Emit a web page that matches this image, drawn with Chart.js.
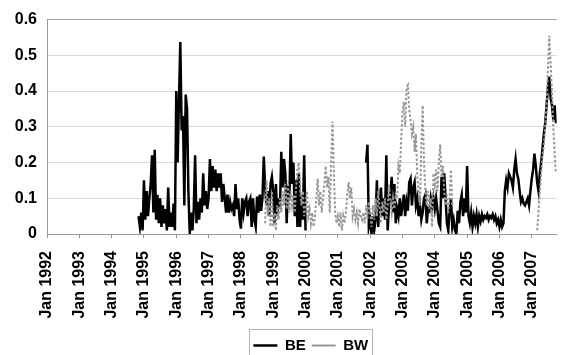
<!DOCTYPE html>
<html>
<head>
<meta charset="utf-8">
<script src="https://cdn.jsdelivr.net/npm/chart.js@4.4.1/dist/chart.umd.min.js"></script>
<style>
    html, body { margin: 0; padding: 0; background: #fff; }
</style>
</head>
<body>
<canvas id="myChart" width="564" height="355"></canvas>
<script>
const stepsPerYear = 24; // two readings a month

// BE, Nov 1994 to Jan 2000
const beEarlyFrom = 1994 + 20 / 24;
const beEarly = [
    0.05, 0.02, 0.06, 0.01,
    0.15, 0.04, 0.12, 0.05, 0.10, 0.14, 0.22, 0.06, 0.236, 0.04, 0.11, 0.03, 0.10, 0.02, 0.08, 0.03, 0.07, 0.01, 0.13, 0.02, 0.06, 0.02, 0.085, 0.01,
    0.40, 0.20, 0.37, 0.537, 0.29, 0.33, 0.08, 0.39, 0.35, 0.12, 0.00, 0.06, 0.01, 0.07, 0.22, 0.03, 0.09, 0.04, 0.10, 0.06, 0.17, 0.08, 0.12, 0.07,
    0.10, 0.21, 0.12, 0.19, 0.13, 0.18, 0.12, 0.17, 0.13, 0.17, 0.09, 0.14, 0.10, 0.06, 0.11, 0.06, 0.09, 0.07, 0.08, 0.05, 0.14, 0.07, 0.10, 0.04,
    0.015, 0.10, 0.06, 0.09, 0.10, 0.05, 0.09, 0.10, 0.02, 0.10, 0.04, 0.02, 0.105, 0.06, 0.11, 0.065, 0.10, 0.217, 0.13, 0.08, 0.12, 0.05, 0.14, 0.16,
    0.12, 0.03, 0.14, 0.05, 0.10, 0.07, 0.23, 0.13, 0.21, 0.17, 0.03, 0.14, 0.10, 0.28, 0.14, 0.20, 0.05, 0.15, 0.02, 0.17, 0.02, 0.11, 0.04, 0.22,
    0.01
];

// BE, Nov 2001 to Sep 2007
const beLateFrom = 2001 + 21 / 24;
const beLate = [
    0.20, 0.25, 0.02,
    0.04, 0.00, 0.05, 0.01, 0.04, 0.15, 0.02, 0.09, 0.13, 0.05, 0.10, 0.04, 0.22, 0.01, 0.08, 0.11, 0.16, 0.06, 0.14, 0.03, 0.07, 0.05, 0.10, 0.05,
    0.08, 0.11, 0.05, 0.09, 0.065, 0.145, 0.155, 0.08, 0.13, 0.145, 0.08, 0.10, 0.05, 0.08, 0.04, 0.06, 0.10, 0.11, 0.03, 0.07, 0.065, 0.10, 0.075, 0.10,
    0.07, 0.10, 0.065, 0.03, 0.02, 0.16, 0.10, 0.17, 0.10, 0.03, 0.01, 0.065, 0.10, 0.02, 0.04, 0.01, 0.00, 0.065, 0.03, 0.09, 0.11, 0.05, 0.10, 0.06,
    0.19, 0.05, 0.03, 0.06, 0.02, 0.05, 0.03, 0.055, 0.02, 0.05, 0.035, 0.055, 0.04, 0.05, 0.045, 0.055, 0.04, 0.05, 0.045, 0.055, 0.04, 0.05, 0.03, 0.04,
    0.02, 0.04, 0.02, 0.03, 0.12, 0.15, 0.13, 0.17, 0.16, 0.15, 0.13, 0.18, 0.21, 0.17, 0.155, 0.12, 0.09, 0.10, 0.085, 0.08, 0.09, 0.10, 0.08, 0.12,
    0.155, 0.18, 0.225, 0.19, 0.145, 0.12, 0.17, 0.20, 0.24, 0.28, 0.31, 0.36, 0.41, 0.44, 0.38, 0.36, 0.32, 0.36, 0.31
];

// BW, Oct 1998 to Jul 2004
const bwEarlyFrom = 1998 + 18 / 24;
const bwEarly = [
    0.03, 0.15, 0.05, 0.10, 0.02, 0.12,
    0.02, 0.06, 0.01, 0.08, 0.04, 0.10, 0.06, 0.12, 0.08, 0.14, 0.07, 0.15, 0.06, 0.12, 0.08, 0.11, 0.06, 0.13, 0.18, 0.20, 0.12, 0.08, 0.12, 0.05,
    0.08, 0.12, 0.05, 0.07, 0.03, 0.06, 0.02, 0.05, 0.10, 0.155, 0.08, 0.12, 0.06, 0.10, 0.14, 0.19, 0.13, 0.16, 0.06, 0.20, 0.315, 0.18, 0.06, 0.03,
    0.05, 0.02, 0.06, 0.01, 0.05, 0.03, 0.06, 0.11, 0.145, 0.10, 0.13, 0.05, 0.07, 0.04, 0.06, 0.03, 0.07, 0.05, 0.04, 0.06, 0.03, 0.08, 0.05, 0.09,
    0.06, 0.02, 0.08, 0.04, 0.10, 0.05, 0.12, 0.07, 0.03, 0.09, 0.06, 0.10, 0.04, 0.08, 0.14, 0.09, 0.06, 0.10, 0.07, 0.11, 0.10, 0.19, 0.17, 0.26,
    0.34, 0.37, 0.30, 0.41, 0.417, 0.35, 0.32, 0.28, 0.30, 0.23, 0.28, 0.16, 0.12, 0.08, 0.25, 0.36, 0.20, 0.12, 0.08, 0.12, 0.07, 0.10, 0.02, 0.17,
    0.14, 0.18, 0.12, 0.20, 0.25, 0.16, 0.19, 0.12, 0.08, 0.11, 0.06, 0.10, 0.18, 0.08
];

// BW, Mar 2007 to Sep 2007
const bwLateFrom = 2007 + 4 / 24;
const bwLate = [0.01, 0.06, 0.12, 0.17, 0.22, 0.25, 0.30, 0.36, 0.46, 0.555, 0.48, 0.40, 0.30, 0.22, 0.17];

const yearTicks = [1992, 1993, 1994, 1995, 1996, 1997, 1998, 1999, 2000, 2001, 2002, 2003, 2004, 2005, 2006, 2007];
const valueTicks = [0, 0.1, 0.2, 0.3, 0.4, 0.5, 0.6];

function toPoints(from, values) {
    return values.map((v, i) => ({ x: from + i / stepsPerYear, y: v }));
}

// joins two runs with an empty point so the line breaks between them
function joinRuns(a, b) {
    return a.concat([{ x: (a[a.length - 1].x + b[0].x) / 2, y: null }], b);
}

const beData = joinRuns(toPoints(beEarlyFrom, beEarly), toPoints(beLateFrom, beLate));
const bwData = joinRuns(toPoints(bwEarlyFrom, bwEarly), toPoints(bwLateFrom, bwLate));

const font = { family: '"Liberation Sans", Arial, sans-serif', weight: 'bold', size: 16 };

// nudges the legend and draws a light frame round it
const legendFrame = {
    id: 'legendFrame',
    afterLayout(chart) {
        const lg = chart.legend;
        lg.left += 9; lg.right += 9;
        lg.top += 4; lg.bottom += 4;
    },
    afterDraw(chart) {
        const boxes = chart.legend.legendHitBoxes;
        if (!boxes || !boxes.length) return;
        const left = Math.min(...boxes.map(b => b.left)) - 4;
        const right = Math.max(...boxes.map(b => b.left + b.width)) + 4;
        const top = boxes[0].top - 9;
        const ctx = chart.ctx;
        ctx.save();
        ctx.strokeStyle = '#b5b5b5';
        ctx.lineWidth = 1;
        ctx.strokeRect(Math.round(left) + 0.5, Math.round(top) + 0.5, Math.round(right - left), 40);
        ctx.restore();
    }
};

const ctx = document.getElementById('myChart').getContext('2d');

window.chart = new Chart(ctx, {
    type: 'line',
    data: {
        datasets: [{
            label: 'BE',
            data: beData,
            borderColor: '#000',
            borderWidth: 2.5,
            pointRadius: 0,
            spanGaps: false,
            order: 1
        }, {
            label: 'BW',
            data: bwData,
            borderColor: '#979797',
            borderWidth: 2,
            borderDash: [2.5, 2],
            pointRadius: 0,
            spanGaps: false,
            order: 0
        }]
    },
    options: {
        responsive: false,
        animation: false,
        devicePixelRatio: 1,
        layout: { padding: { left: 0, right: 1, top: 14, bottom: -4 } },
        scales: {
            x: {
                type: 'linear',
                min: 1992,
                max: 2007.77,
                afterBuildTicks: s => { s.ticks = yearTicks.map(v => ({ value: v })); },
                afterFit: s => { s.height = 94; },
                border: { color: '#999', width: 1 },
                grid: { drawOnChartArea: false, drawTicks: true, tickLength: 4, color: '#999' },
                ticks: {
                    autoSkip: false,
                    minRotation: 90,
                    maxRotation: 90,
                    padding: 13,
                    color: '#000',
                    font: font,
                    callback: v => 'Jan ' + v
                }
            },
            y: {
                min: 0,
                max: 0.6,
                afterBuildTicks: s => { s.ticks = valueTicks.map(v => ({ value: v })); },
                afterFit: s => { s.width = 47; },
                border: { color: '#999', width: 1 },
                grid: {
                    drawTicks: false,
                    color: c => c.tick && c.tick.value === 0.6 ? '#a8a8a8' : '#dadada'
                },
                ticks: {
                    padding: 10,
                    color: '#000',
                    font: font,
                    callback: v => String(v)
                }
            }
        },
        plugins: {
            legend: {
                position: 'bottom',
                fullSize: false,
                labels: {
                    usePointStyle: true,
                    pointStyle: 'line',
                    pointStyleWidth: 24,
                    padding: 6,
                    color: '#000',
                    font: { family: font.family, weight: 'bold', size: 15 },
                    sort: (a, b) => a.datasetIndex - b.datasetIndex
                }
            },
            tooltip: { enabled: false }
        }
    },
    plugins: [legendFrame]
});
</script>
</body>
</html>
